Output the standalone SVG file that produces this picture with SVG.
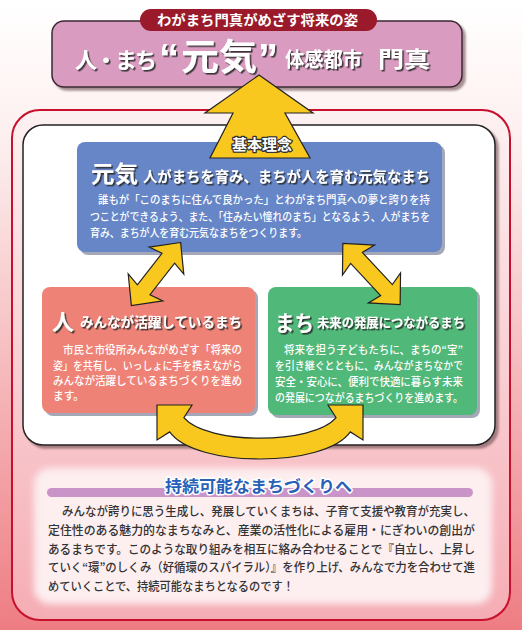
<svg xmlns="http://www.w3.org/2000/svg" width="522" height="630" viewBox="0 0 522 630">
<defs>
<linearGradient id="bg" x1="0" y1="0" x2="0" y2="1">
<stop offset="0" stop-color="#ffffff"/>
<stop offset="0.13" stop-color="#fff6f6"/>
<stop offset="0.25" stop-color="#fcecec"/>
<stop offset="1" stop-color="#ee7d83"/>
</linearGradient>
<linearGradient id="frameFill" x1="0" y1="0" x2="0" y2="1">
<stop offset="0" stop-color="#fdf1f2"/>
<stop offset="1" stop-color="#f5adb4"/>
</linearGradient>
<filter id="ts" x="-10%" y="-30%" width="130%" height="170%">
<feDropShadow dx="1.6" dy="1.6" stdDeviation="0.4" flood-color="#2a2a2a" flood-opacity="0.9"/>
</filter>
<filter id="bs" x="-10%" y="-10%" width="130%" height="130%">
<feDropShadow dx="3" dy="3" stdDeviation="1" flood-color="#6a4a50" flood-opacity="0.6"/>
</filter>
<filter id="blur" x="-10%" y="-20%" width="120%" height="140%">
<feGaussianBlur stdDeviation="3.5"/>
</filter>
<style>
.jp{font-family:"Noto Sans CJK JP","Noto Sans CJK SC",sans-serif;}
.h{font-weight:bold;fill:#ffffff;}
.body{font-weight:500;fill:#ffffff;font-size:10.8px;}
.dark{font-weight:500;fill:#333333;font-size:12.2px;}
.q{font-family:"Liberation Sans",Arial,sans-serif;font-size:40px;}
.yel{fill:#f8c81e;stroke:#222222;stroke-width:1.2;stroke-linejoin:miter;}
</style>
</defs>

<rect x="0" y="0" width="522" height="630" fill="url(#bg)"/>

<g id="header">
<rect x="52" y="21" width="410" height="66" rx="12" fill="#d99bc0" stroke="#3a2830" stroke-width="1.5" filter="url(#bs)"/>
<rect x="140" y="9" width="237" height="22" rx="11" fill="#9a1a2c"/>
<text class="jp h" x="157" y="25" font-size="13.5" textLength="201" lengthAdjust="spacingAndGlyphs">わがまち門真がめざす将来の姿</text>
<g filter="url(#ts)">
<text class="jp h" x="75" y="68" font-size="22" letter-spacing="-2">人・まち</text>
<text class="jp h" y="70" font-size="36"><tspan class="q" x="159" y="72">“</tspan><tspan x="181" y="70" textLength="76" lengthAdjust="spacingAndGlyphs">元気</tspan><tspan class="q" x="258" y="72">”</tspan></text>
<text class="jp h" x="285" y="67" font-size="20" textLength="77" lengthAdjust="spacingAndGlyphs">体感都市</text>
<text class="jp h" x="378" y="67" font-size="22" textLength="52" lengthAdjust="spacingAndGlyphs">門真</text>
</g>
</g>

<g id="frame">
<rect x="12" y="110" width="498" height="510" rx="28" fill="url(#frameFill)" stroke="#c8102e" stroke-width="2"/>
<rect x="23" y="125" width="472" height="320" rx="20" fill="#ffffff" stroke="#222222" stroke-width="1.5" filter="url(#bs)"/>
</g>

<g id="genki">
<rect x="80" y="145" width="365" height="110" rx="8" fill="#a4a8b6"/>
<rect x="77" y="142" width="365" height="110" rx="8" fill="#6686c8"/>
<g filter="url(#ts)">
<text class="jp h" x="91" y="182" font-size="23" textLength="47" lengthAdjust="spacingAndGlyphs">元気</text>
<text class="jp h" x="143" y="182" font-size="14.5" textLength="287" lengthAdjust="spacingAndGlyphs">人がまちを育み、まちが人を育む元気なまち</text>
</g>
<text class="jp body" x="98" y="204" textLength="332" lengthAdjust="spacingAndGlyphs">誰もが「このまちに住んで良かった」とわがまち門真への夢と誇りを持</text>
<text class="jp body" x="90" y="221" textLength="340" lengthAdjust="spacingAndGlyphs">つことができるよう、また、「住みたい憧れのまち」となるよう、人がまちを</text>
<text class="jp body" x="90" y="237" textLength="217" lengthAdjust="spacingAndGlyphs">育み、まちが人を育む元気なまちをつくります。</text>
</g>

<g id="hito">
<rect x="45" y="290" width="213" height="126" rx="8" fill="#a4a8b6"/>
<rect x="42" y="287" width="213" height="126" rx="8" fill="#ef8276"/>
<g filter="url(#ts)">
<text class="jp h" x="52" y="330" font-size="22">人</text>
<text class="jp h" x="80" y="327" font-size="13.5" textLength="162" lengthAdjust="spacingAndGlyphs">みんなが活躍しているまち</text>
</g>
<text class="jp body" x="63" y="354" textLength="179" lengthAdjust="spacingAndGlyphs">市民と市役所みんながめざす「将来の</text>
<text class="jp body" x="53" y="370" textLength="189" lengthAdjust="spacingAndGlyphs">姿」を共有し、いっしょに手を携えながら</text>
<text class="jp body" x="53" y="385" textLength="189" lengthAdjust="spacingAndGlyphs">みんなが活躍しているまちづくりを進め</text>
<text class="jp body" x="53" y="400" textLength="31" lengthAdjust="spacingAndGlyphs">ます。</text>
</g>

<g id="machi">
<rect x="271" y="290" width="209" height="128" rx="8" fill="#a4a8b6"/>
<rect x="268" y="287" width="209" height="128" rx="8" fill="#50b878"/>
<g filter="url(#ts)">
<text class="jp h" x="275" y="331" font-size="22" textLength="39" lengthAdjust="spacingAndGlyphs">まち</text>
<text class="jp h" x="317" y="327" font-size="13" textLength="148" lengthAdjust="spacingAndGlyphs">未来の発展につながるまち</text>
</g>
<text class="jp body" x="284" y="354" textLength="179" lengthAdjust="spacingAndGlyphs">将来を担う子どもたちに、まちの“宝”</text>
<text class="jp body" x="275" y="370" textLength="188" lengthAdjust="spacingAndGlyphs">を引き継ぐとともに、みんながまちなかで</text>
<text class="jp body" x="275" y="386" textLength="188" lengthAdjust="spacingAndGlyphs">安全・安心に、便利で快適に暮らす未来</text>
<text class="jp body" x="275" y="402" textLength="188" lengthAdjust="spacingAndGlyphs">の発展につながるまちづくりを進めます。</text>
</g>

<g id="connectors">
<polygon class="yel" points="259,75 205,113 233,113 210,158 310,158 285,113 313,113"/>
<polygon class="yel" transform="translate(156,274) rotate(-52)" points="40,0 17,-22 20,-8 -20,-8 -17,-22 -40,0 -17,22 -20,8 20,8 17,22"/>
<polygon class="yel" transform="translate(371.5,274) rotate(47)" points="42,0 19,-22 22,-8 -22,-8 -19,-22 -42,0 -19,22 -22,8 22,8 19,22"/>
<path class="yel" d="M157,405 L192,405 L183.9,417.7 C207,445 313,445 336.1,417.7 L328,405 L363,405 L363,440 L350.3,431.9 C325,468 195,468 169.7,431.9 L157,440 Z"/>
</g>

<g id="kihon">
<text class="jp h" x="262" y="150" font-size="15" text-anchor="middle" stroke="#333333" stroke-width="2.6" paint-order="stroke" stroke-linejoin="round">基本理念</text>
</g>

<g id="sustain">
<rect x="34" y="468" width="458" height="136" rx="16" fill="#fdeef0" filter="url(#blur)"/>
<rect x="47" y="488" width="426" height="9" rx="4.5" fill="#c995c8"/>
<text class="jp" x="165" y="492" font-size="16" font-weight="bold" fill="#2860b8" stroke="#ffffff" stroke-width="3" paint-order="stroke" stroke-linejoin="round" textLength="187" lengthAdjust="spacingAndGlyphs">持続可能なまちづくりへ</text>
<text class="jp dark" x="62" y="516" textLength="413" lengthAdjust="spacingAndGlyphs">みんなが誇りに思う生成し、発展していくまちは、子育て支援や教育が充実し、</text>
<text class="jp dark" x="48" y="535" textLength="427" lengthAdjust="spacingAndGlyphs">定住性のある魅力的なまちなみと、産業の活性化による雇用・にぎわいの創出が</text>
<text class="jp dark" x="48" y="554" textLength="427" lengthAdjust="spacingAndGlyphs">あるまちです。このような取り組みを相互に絡み合わせることで『自立し、上昇し</text>
<text class="jp dark" x="48" y="572" textLength="427" lengthAdjust="spacingAndGlyphs">ていく“環”のしくみ（好循環のスパイラル）』を作り上げ、みんなで力を合わせて進</text>
<text class="jp dark" x="48" y="591" textLength="246" lengthAdjust="spacingAndGlyphs">めていくことで、持続可能なまちとなるのです！</text>
</g>
</svg>
